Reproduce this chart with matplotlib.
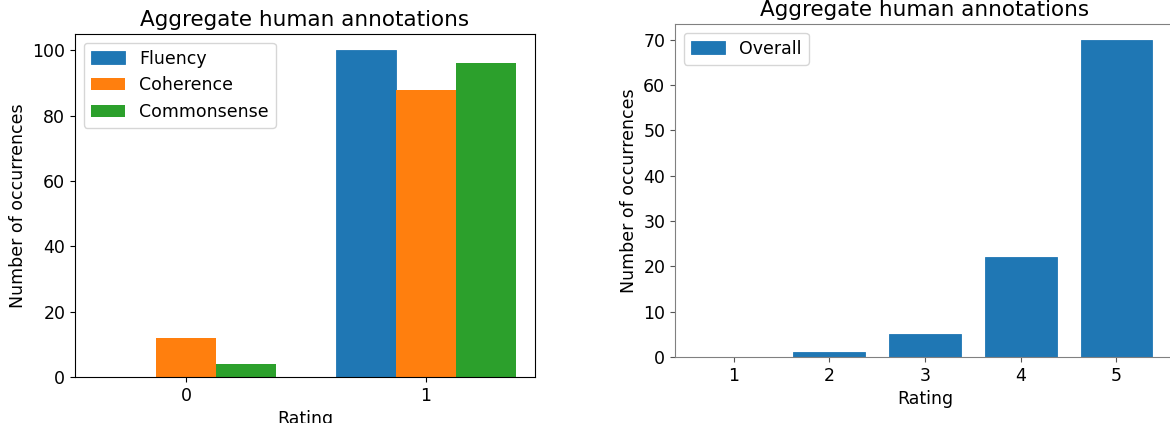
import matplotlib
matplotlib.use("Agg")
import matplotlib.pyplot as plt
import numpy as np

left_cats = ["0", "1"]
fluency = [0, 100]
coherence = [12, 88]
commonsense = [4, 96]

right_cats = [1, 2, 3, 4, 5]
overall = [0, 1, 5, 22, 70]

W, H = 1170, 423
fig = plt.figure(figsize=(W / 100, H / 100), dpi=100)

def px_axes(l, r, t, b):
    return fig.add_axes([l / W, 1 - b / H, (r - l) / W, (b - t) / H])

fs = 12.5
ax1 = px_axes(75, 535, 34, 377)
x = np.arange(len(left_cats))
w = 0.25
ax1.bar(x - w, fluency, w, label="Fluency", color="#1f77b4", edgecolor="#1f77b4", linewidth=0.6)
ax1.bar(x, coherence, w, label="Coherence", color="#ff7f0e")
ax1.bar(x + w, commonsense, w, label="Commonsense", color="#2ca02c")
ax1.set_xticks(x)
ax1.set_xticklabels(left_cats)
ax1.set_xlim(-0.4625, 1.455)
ax1.set_ylim(0, 105)
ax1.set_title("Aggregate human annotations", fontsize=15.5)
ax1.set_xlabel("Rating", fontsize=fs)
ax1.set_ylabel("Number of occurrences", fontsize=fs)
ax1.tick_params(labelsize=fs)
ax1.legend(loc="upper left", fontsize=fs)

ax2 = px_axes(675, 1175, 24, 357)
ax2.bar(right_cats, overall, 0.75, label="Overall", color="#1f77b4", edgecolor="#1f77b4", linewidth=0.6)
ax2.set_xticks(right_cats)
ax2.set_xlim(0.3875, 5.6125)
ax2.set_ylim(0, 73.5)
ax2.set_title("Aggregate human annotations", fontsize=15.5)
ax2.set_xlabel("Rating", fontsize=fs)
ax2.set_ylabel("Number of occurrences", fontsize=fs)
ax2.tick_params(labelsize=fs, color="#555555")
for s in ax2.spines.values():
    s.set_color("#808080")
ax2.legend(loc="upper left", fontsize=fs)

fig.savefig("out.png", dpi=100)
